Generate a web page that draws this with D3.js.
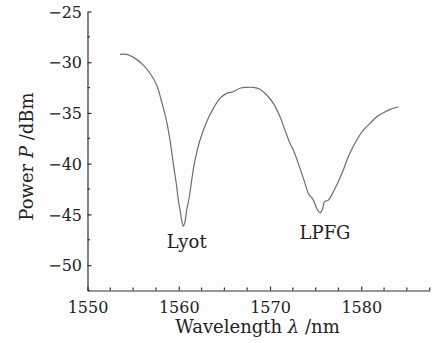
<!DOCTYPE html>
<html>
<head>
<meta charset="utf-8">
<script src="https://cdn.jsdelivr.net/npm/d3@7"></script>
<style>
  html, body { margin: 0; padding: 0; background: #fdfdfd; }
  svg { display: block; font-family: "DejaVu Serif", serif; }
  .axis path, .axis line { stroke: #333; stroke-width: 1.2; }
  .title, .note { font-size: 18px; fill: #222; }
  .trace { fill: none; stroke: #6e6e6e; stroke-width: 1.2; }
</style>
</head>
<body>
<script>
// spectrum
var wavelength = [1553.56, 1554.30, 1555.21, 1556.12, 1556.85, 1557.58, 1558.13, 1558.68, 1559.04, 1559.40,
  1559.78, 1559.95, 1560.14, 1560.32, 1560.50, 1560.68, 1560.87, 1561.16, 1561.42, 1561.78,
  1562.33, 1563.06, 1563.79, 1564.52, 1565.25, 1565.98, 1566.71, 1567.45, 1568.17, 1568.90,
  1569.64, 1570.36, 1571.10, 1571.64, 1572.19, 1572.55, 1573.10, 1573.47, 1573.84, 1574.20,
  1574.75, 1575.12, 1575.48, 1575.78, 1575.95, 1576.39, 1576.94, 1577.48, 1578.03, 1578.58,
  1579.50, 1580.22, 1580.96, 1581.69, 1582.42, 1583.15, 1584.06];
var power = [-29.22, -29.22, -29.62, -30.28, -31.09, -32.25, -33.90, -35.87, -37.67, -39.97,
  -42.28, -43.59, -44.58, -45.56, -46.15, -45.73, -44.58, -43.26, -41.62, -39.64,
  -37.67, -35.87, -34.55, -33.56, -33.07, -32.91, -32.57, -32.48, -32.48, -32.67,
  -33.23, -34.05, -35.37, -36.69, -38.00, -38.66, -39.97, -40.96, -41.94, -42.93,
  -43.59, -44.41, -44.84, -44.41, -43.76, -43.59, -42.77, -41.78, -40.63, -39.32,
  -37.67, -36.69, -36.03, -35.37, -34.98, -34.65, -34.39];

var xMajor = [1550, 1560, 1570, 1580];
var yMajor = [-50, -45, -40, -35, -30, -25];
var notes = [
  {text: "Lyot", wl: 1560.87, p: -48.32},
  {text: "LPFG", wl: 1576.03, p: -47.47}
];

var W = 438, H = 343;
var margin = {top: 11.5, left: 87.5, right: 8.3, bottom: 52.5};
var serif = "DejaVu Serif, serif";

var svg = d3.select("body").append("svg")
    .attr("width", W)
    .attr("height", H);

var x = d3.scaleLinear().domain([1550, 1587.5]).range([margin.left, W - margin.right]),
    y = d3.scaleLinear().domain([-52.5, -25]).range([H - margin.bottom, margin.top]);

var minorX = d3.range(1550, 1587.6, 2.5).filter(v => !xMajor.includes(v)),
    minorY = d3.range(-52.5, -24.9, 2.5).filter(v => !yMajor.includes(v));

// x axis, ticks pointing inwards
var gx = svg.append("g")
    .attr("class", "x axis")
    .attr("transform", `translate(0, ${y(-52.5)})`);
gx.call(d3.axisBottom(x).tickValues(xMajor).tickFormat(d3.format("d"))
      .tickSizeInner(-4).tickSizeOuter(0).tickPadding(0))
  .attr("font-family", serif).attr("font-size", 16);
gx.selectAll("text").attr("y", 22.5).attr("dy", 0).attr("fill", "#222");
gx.selectAll(".minor").data(minorX).enter().append("line")
    .attr("class", "minor")
    .attr("x1", d => x(d)).attr("x2", d => x(d))
    .attr("y1", 0).attr("y2", -3);

// y axis
var gy = svg.append("g")
    .attr("class", "y axis")
    .attr("transform", `translate(${x(1550)}, 0)`);
gy.call(d3.axisLeft(y).tickValues(yMajor).tickSizeInner(-4).tickSizeOuter(0).tickPadding(10)
      .tickFormat(d => String(d).replace("-", "\u2212")))
  .attr("font-family", serif).attr("font-size", 16);
gy.selectAll("text").attr("x", -5.5).attr("dy", "0.36em").attr("fill", "#222");
gy.selectAll(".minor").data(minorY).enter().append("line")
    .attr("class", "minor")
    .attr("y1", d => y(d)).attr("y2", d => y(d))
    .attr("x1", 0).attr("x2", 2.5);
svg.selectAll(".axis .domain").attr("fill", "none");

// spectrum
var line = d3.line()
    .x((d, i) => x(wavelength[i]))
    .y(d => y(d))
    .curve(d3.curveCatmullRom.alpha(0.5));
svg.append("path")
    .datum(power)
    .attr("class", "trace")
    .attr("d", line);

// dip labels
svg.selectAll(".note").data(notes).enter().append("text")
    .attr("class", "note")
    .attr("text-anchor", "middle")
    .attr("x", d => x(d.wl))
    .attr("y", d => y(d.p))
    .text(d => d.text);

// axis titles
var xt = svg.append("text")
    .attr("class", "title")
    .attr("text-anchor", "middle")
    .attr("x", 257.5)
    .attr("y", 333);
xt.append("tspan").text("Wavelength ");
xt.append("tspan").attr("font-style", "italic").text("\u03bb");
xt.append("tspan").text(" /nm");

var yt = svg.append("text")
    .attr("class", "title")
    .attr("text-anchor", "middle")
    .attr("transform", "translate(33, 156.5) rotate(-90)");
yt.append("tspan").text("Power ");
yt.append("tspan").attr("font-style", "italic").text("P");
yt.append("tspan").text(" /dBm");
</script>
</body>
</html>
